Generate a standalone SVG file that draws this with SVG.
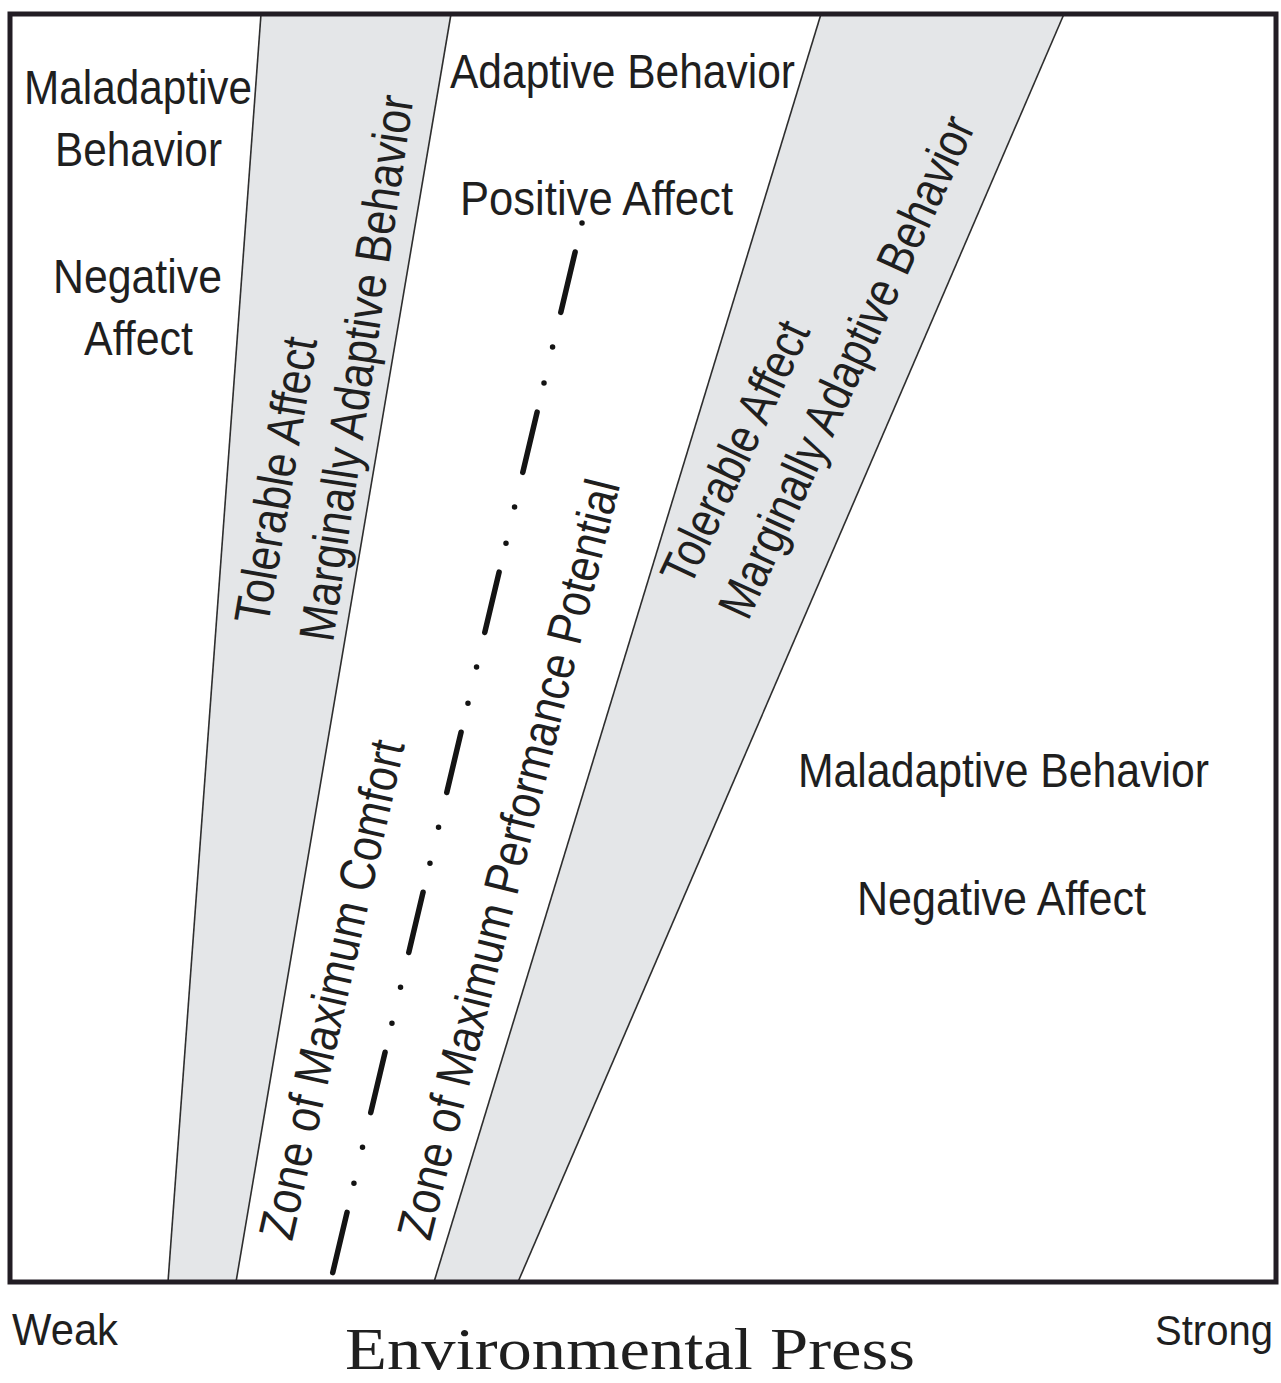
<svg xmlns="http://www.w3.org/2000/svg" width="1281" height="1383" viewBox="0 0 1281 1383">
<style>
.t{font-family:"Liberation Sans",Arial,sans-serif;font-size:48px;fill:#1f1f1f}
.r{font-size:50px}
.ax{font-size:44px}
.st{font-size:42px}
.s{font-family:"Liberation Serif","Times New Roman",serif;font-size:60px;fill:#1f1f1f}
.band{fill:#e4e6e8;stroke:none}
.edge{stroke:#2e2e2e;stroke-width:1.6;fill:none}
.opt{stroke:#141414;stroke-width:5.5;stroke-linecap:round;fill:none;stroke-dasharray:62 35.6 0 37.1 0 29.8}
</style>
<rect x="0" y="0" width="1281" height="1383" fill="#ffffff"/>
<g id="band-left">
  <polygon class="band" points="261,14 451,14 236,1282 168,1282"/>
  <line class="edge" x1="261" y1="14" x2="168" y2="1282"/>
  <line class="edge" x1="451" y1="14" x2="236" y2="1282"/>
  <text class="t r" transform="translate(268,626) rotate(-80.2)" textLength="290" lengthAdjust="spacingAndGlyphs">Tolerable Affect</text>
  <text class="t r" transform="translate(333,643) rotate(-81.6)" textLength="551" lengthAdjust="spacingAndGlyphs">Marginally Adaptive Behavior</text>
</g>
<g id="band-right">
  <polygon class="band" points="821,14 1064,14 518,1282 434,1282"/>
  <line class="edge" x1="821" y1="14" x2="434" y2="1282"/>
  <line class="edge" x1="1064" y1="14" x2="518" y2="1282"/>
  <text class="t r" transform="translate(690,588) rotate(-64.8)" textLength="284" lengthAdjust="spacingAndGlyphs">Tolerable Affect</text>
  <text class="t r" transform="translate(748,622) rotate(-65.3)" textLength="546" lengthAdjust="spacingAndGlyphs">Marginally Adaptive Behavior</text>
</g>
<g id="connectors">
  <path class="opt" d="M582.5,221 L330.5,1282" stroke-dashoffset="132.6"/>
</g>
<g id="zone-comfort">
  <text class="t r" transform="translate(292,1242) rotate(-77.2)" textLength="510" lengthAdjust="spacingAndGlyphs">Zone of Maximum Comfort</text>
</g>
<g id="zone-performance">
  <text class="t r" transform="translate(430,1242) rotate(-75.9)" textLength="781" lengthAdjust="spacingAndGlyphs">Zone of Maximum Performance Potential</text>
</g>
<g id="left-region">
  <text class="t" x="24" y="104" textLength="228" lengthAdjust="spacingAndGlyphs">Maladaptive</text>
  <text class="t" x="55" y="166" textLength="167" lengthAdjust="spacingAndGlyphs">Behavior</text>
  <text class="t" x="53" y="293" textLength="169" lengthAdjust="spacingAndGlyphs">Negative</text>
  <text class="t" x="84" y="355" textLength="109" lengthAdjust="spacingAndGlyphs">Affect</text>
</g>
<g id="middle-region">
  <text class="t" x="450" y="88" textLength="345" lengthAdjust="spacingAndGlyphs">Adaptive Behavior</text>
  <text class="t" x="460" y="215" textLength="273" lengthAdjust="spacingAndGlyphs">Positive Affect</text>
</g>
<g id="right-region">
  <text class="t" x="798" y="787" textLength="411" lengthAdjust="spacingAndGlyphs">Maladaptive Behavior</text>
  <text class="t" x="857" y="915" textLength="289" lengthAdjust="spacingAndGlyphs">Negative Affect</text>
</g>
<g id="frame">
  <rect x="10" y="14" width="1266" height="1268" fill="none" stroke="#221d24" stroke-width="5"/>
</g>
<g id="axis">
  <text class="t ax" x="12" y="1345" textLength="106" lengthAdjust="spacingAndGlyphs">Weak</text>
  <text class="t st" x="1155" y="1345" textLength="118" lengthAdjust="spacingAndGlyphs">Strong</text>
  <text class="s" x="345" y="1369" textLength="570" lengthAdjust="spacingAndGlyphs">Environmental Press</text>
</g>
</svg>
